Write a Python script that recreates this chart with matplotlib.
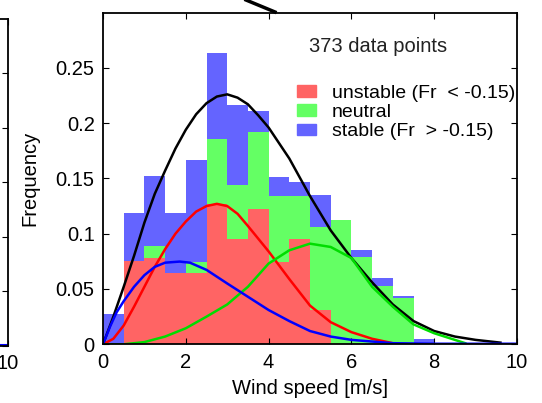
import matplotlib
matplotlib.use("Agg")
import matplotlib.pyplot as plt
from matplotlib.lines import Line2D
from matplotlib.patches import Patch

plt.rcParams['font.family'] = ['Liberation Sans', 'DejaVu Sans']

# histogram bins (left edges, width 0.5 m/s)
bin_left = [0, 0.5, 1.0, 1.5, 2.0, 2.5, 3.0, 3.5, 4.0, 4.5, 5.0, 5.5, 6.0, 6.5, 7.0, 7.5]
bin_width = 0.5
# stacked frequency per class
freq_unstable = [0, 0.0757, 0.0779, 0.0643, 0.0643, 0.1268, 0.0954, 0.1223,
                 0.0748, 0.0951, 0.0311, 0, 0, 0, 0, 0]
freq_neutral = [0, 0, 0.0114, 0, 0.0105, 0.0592, 0.0489, 0.0694,
                0.0589, 0.0386, 0.0754, 0.1126, 0.0788, 0.0528, 0.0417, 0]
freq_stable = [0.0274, 0.043, 0.0625, 0.0544, 0.0915, 0.077, 0.0718, 0.019,
               0.0175, 0.0127, 0.0287, 0, 0.0066, 0.007, 0.002, 0.0045]

# fitted curves
x_all = [0, 0.25, 0.5, 0.75, 1.0, 1.25, 1.5, 1.75, 2.0, 2.25, 2.5, 2.75, 3.0,
         3.25, 3.5, 3.75, 4.0, 4.5, 5.0, 5.5, 6.0, 6.5, 7.0, 7.5, 8.0, 8.5,
         9.0, 9.6]
y_all = [0, 0.025, 0.052, 0.08, 0.11, 0.136, 0.157, 0.177, 0.194, 0.208,
         0.218, 0.224, 0.226, 0.223, 0.217, 0.207, 0.196, 0.168, 0.134, 0.103,
         0.078, 0.056, 0.036, 0.021, 0.012, 0.007, 0.004, 0.0015]
x_uns = [0, 0.25, 0.5, 0.75, 1.0, 1.25, 1.5, 1.75, 2.0, 2.25, 2.5, 2.75, 3.0,
         3.25, 3.5, 4.0, 4.5, 5.0, 5.5, 6.0, 6.5, 7.0]
y_uns = [0, 0.005, 0.017, 0.034, 0.052, 0.07, 0.086, 0.1, 0.111, 0.12, 0.125,
         0.127, 0.125, 0.118, 0.107, 0.084, 0.059, 0.035, 0.02, 0.011, 0.005, 0.001]
x_neu = [0, 0.5, 1.0, 1.5, 2.0, 2.5, 3.0, 3.5, 4.0, 4.5, 5.0, 5.5, 6.0, 6.5,
         7.0, 7.5, 8.0, 8.5, 8.75]
y_neu = [0, 0, 0.002, 0.007, 0.0145, 0.025, 0.036, 0.052, 0.073, 0.085, 0.091,
         0.088, 0.078, 0.052, 0.034, 0.018, 0.010, 0.004, 0.001]
x_sta = [0, 0.17, 0.33, 0.5, 0.75, 1.0, 1.25, 1.5, 1.85, 2.1, 2.5, 3.0, 3.5,
         4.0, 4.5, 5.0, 5.5, 6.0, 7.0, 8.0, 10.0]
y_sta = [0, 0.016, 0.029, 0.039, 0.052, 0.0625, 0.07, 0.0738, 0.0748, 0.0738,
         0.0673, 0.055, 0.043, 0.031, 0.021, 0.012, 0.007, 0.004, 0.001, 0.0005,
         0.0005]

# tail of the neighbouring (cut off) panel
x_left_tail = [8, 10]
y_left_tail = [0.001, 0.001]

yticks = [0, 0.05, 0.1, 0.15, 0.2, 0.25]
xticks = [0, 2, 4, 6, 8, 10]

c_red, c_green, c_blue = '#ff6464', '#64ff64', '#6464ff'
fs = 14.5

fig = plt.figure(figsize=(5.42, 4.03), dpi=100)

# neighbouring panel, only its right edge is visible
axl = fig.add_axes([-292.5 / 542, 0.142, 300 / 542, 0.811])
axl.plot(x_left_tail, y_left_tail, color='blue', lw=1.5)
axl.set_xlim(0, 10)
axl.set_ylim(0, 0.3)
axl.set_xticks(xticks)
axl.set_xticklabels(['', '', '', '', '', '10'], fontsize=fs)
axl.set_yticks(yticks)
axl.set_yticklabels([])
axl.tick_params(direction='in', length=4, right=True, top=True, pad=6)
for s in axl.spines.values():
    s.set_linewidth(1.3)

ax = fig.add_axes([103 / 542, 58.7 / 403, 414 / 542, 331.8 / 403])
b1 = [u + n for u, n in zip(freq_unstable, freq_neutral)]
ax.bar(bin_left, freq_unstable, width=bin_width, align='edge', color=c_red, lw=0)
ax.bar(bin_left, freq_neutral, width=bin_width, align='edge', bottom=freq_unstable,
       color=c_green, lw=0)
ax.bar(bin_left, freq_stable, width=bin_width, align='edge', bottom=b1,
       color=c_blue, lw=0)

ax.plot(x_all, y_all, color='black', lw=1.8)
ax.plot(x_uns, y_uns, color='#ff0000', lw=1.8)
ax.plot(x_neu, y_neu, color='#00dd00', lw=1.8)
ax.plot(x_sta, y_sta, color='#0000ff', lw=1.8)

ax.set_xlim(0, 10)
ax.set_ylim(0, 0.3)
ax.set_xticks(xticks)
ax.set_xticklabels([str(t) for t in xticks], fontsize=fs)
ax.set_yticks(yticks)
ax.set_yticklabels([f'{t:g}' for t in yticks], fontsize=fs)
ax.tick_params(direction='in', length=4, right=True, top=True, pad=6)
for s in ax.spines.values():
    s.set_linewidth(1.3)
ax.set_xlabel('Wind speed [m/s]', fontsize=fs, labelpad=5)
ax.set_ylabel('Frequency', fontsize=fs, labelpad=12)

ax.text(0.498, 0.897, '373 data points', transform=ax.transAxes, fontsize=fs,
        ha='left', va='center', color='#222222')

handles = [Patch(color=c_red), Patch(color=c_green), Patch(color=c_blue)]
labels = ['unstable (Fr  < -0.15)', 'neutral', 'stable (Fr  > -0.15)']
ax.legend(handles, labels, loc='upper left', bbox_to_anchor=(0.468, 0.782),
          frameon=False, fontsize=14, handlelength=1.0, handleheight=0.55,
          handletextpad=0.8, labelspacing=0.12, borderpad=0, borderaxespad=0)

# arrow fragment at the top
fig.add_artist(Line2D([246 / 542, 275 / 542], [1.0, 391 / 403], color='black', lw=2.5))

fig.savefig('out.png', dpi=100)
